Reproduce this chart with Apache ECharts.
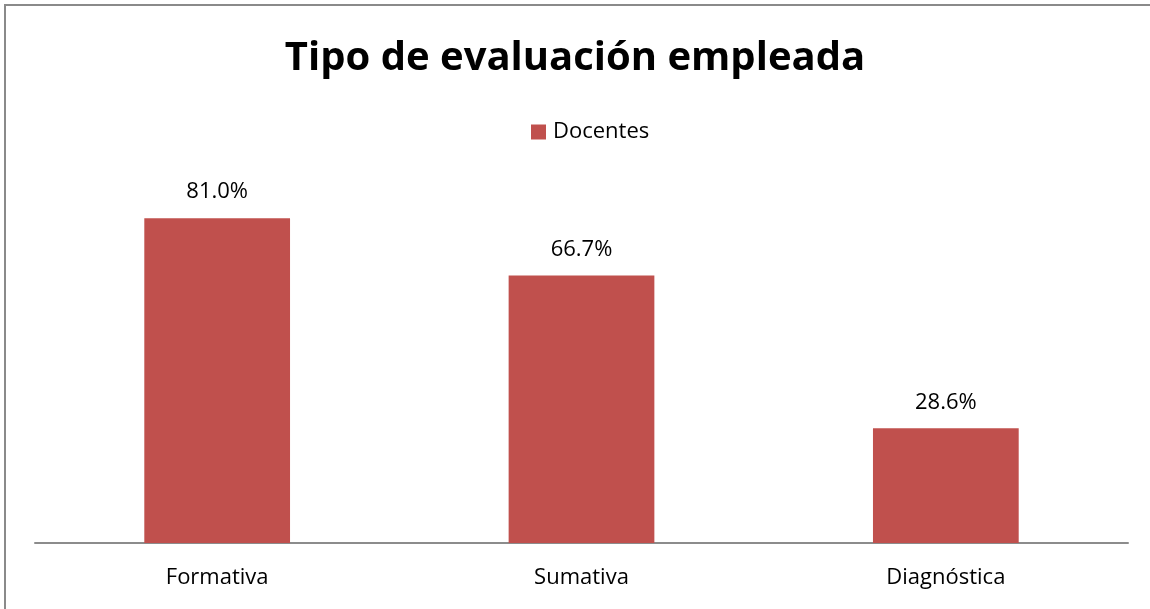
<!DOCTYPE html>
<html>
<head>
<meta charset="utf-8">
<script src="https://cdn.jsdelivr.net/npm/echarts@6/dist/echarts.min.js"></script>
<style>
  html, body { margin: 0; padding: 0; background: #fff; }
  #chart { width: 1150px; height: 609px; }
</style>
</head>
<body>
<div id="chart"></div>
<script>
// Evaluation types used by teachers (share of respondents, %)
const categories = ['Formativa', 'Sumativa', 'Diagnóstica'];
const docentes = [81.0, 66.7, 28.6];
const seriesName = 'Docentes';
const chartTitle = 'Tipo de evaluación empleada';

const font = '"Open Sans", "Noto Sans", sans-serif';
const chart = echarts.init(document.getElementById('chart'), null, { renderer: 'canvas' });

chart.setOption({
  backgroundColor: '#ffffff',
  animation: false,
  title: {
    text: chartTitle,
    left: 'center',
    top: 34,
    textStyle: { fontFamily: font, fontSize: 40, fontWeight: 'bold', color: '#000' }
  },
  legend: {
    data: [seriesName],
    left: 526,
    top: 116,
    icon: 'rect',
    itemWidth: 15,
    itemHeight: 15,
    itemGap: 10,
    textStyle: { fontFamily: font, fontSize: 22, color: '#000', padding: [0, 0, 0, 2] }
  },
  graphic: [{
    type: 'rect',
    shape: { x: 5, y: 5, width: 1200, height: 700 },
    style: { fill: 'none', stroke: '#8a8a8a', lineWidth: 2 },
    silent: true
  }],
  grid: { left: 35, right: 22, top: 142, bottom: 66 },
  xAxis: {
    type: 'category',
    data: categories,
    axisLine: { lineStyle: { color: '#8c8c8c', width: 2 } },
    axisTick: { show: false },
    axisLabel: { fontFamily: font, fontSize: 22, color: '#000', margin: 24 }
  },
  yAxis: {
    type: 'value',
    min: 0,
    max: 100,
    show: false,
    splitLine: { show: false }
  },
  series: [{
    name: seriesName,
    type: 'bar',
    data: docentes,
    barWidth: '40%',
    itemStyle: { color: '#C0504D' },
    label: {
      show: true,
      position: 'top',
      distance: 15,
      fontFamily: font,
      fontSize: 22,
      color: '#000',
      formatter: p => p.value.toFixed(1) + '%'
    }
  }]
});
</script>
</body>
</html>
